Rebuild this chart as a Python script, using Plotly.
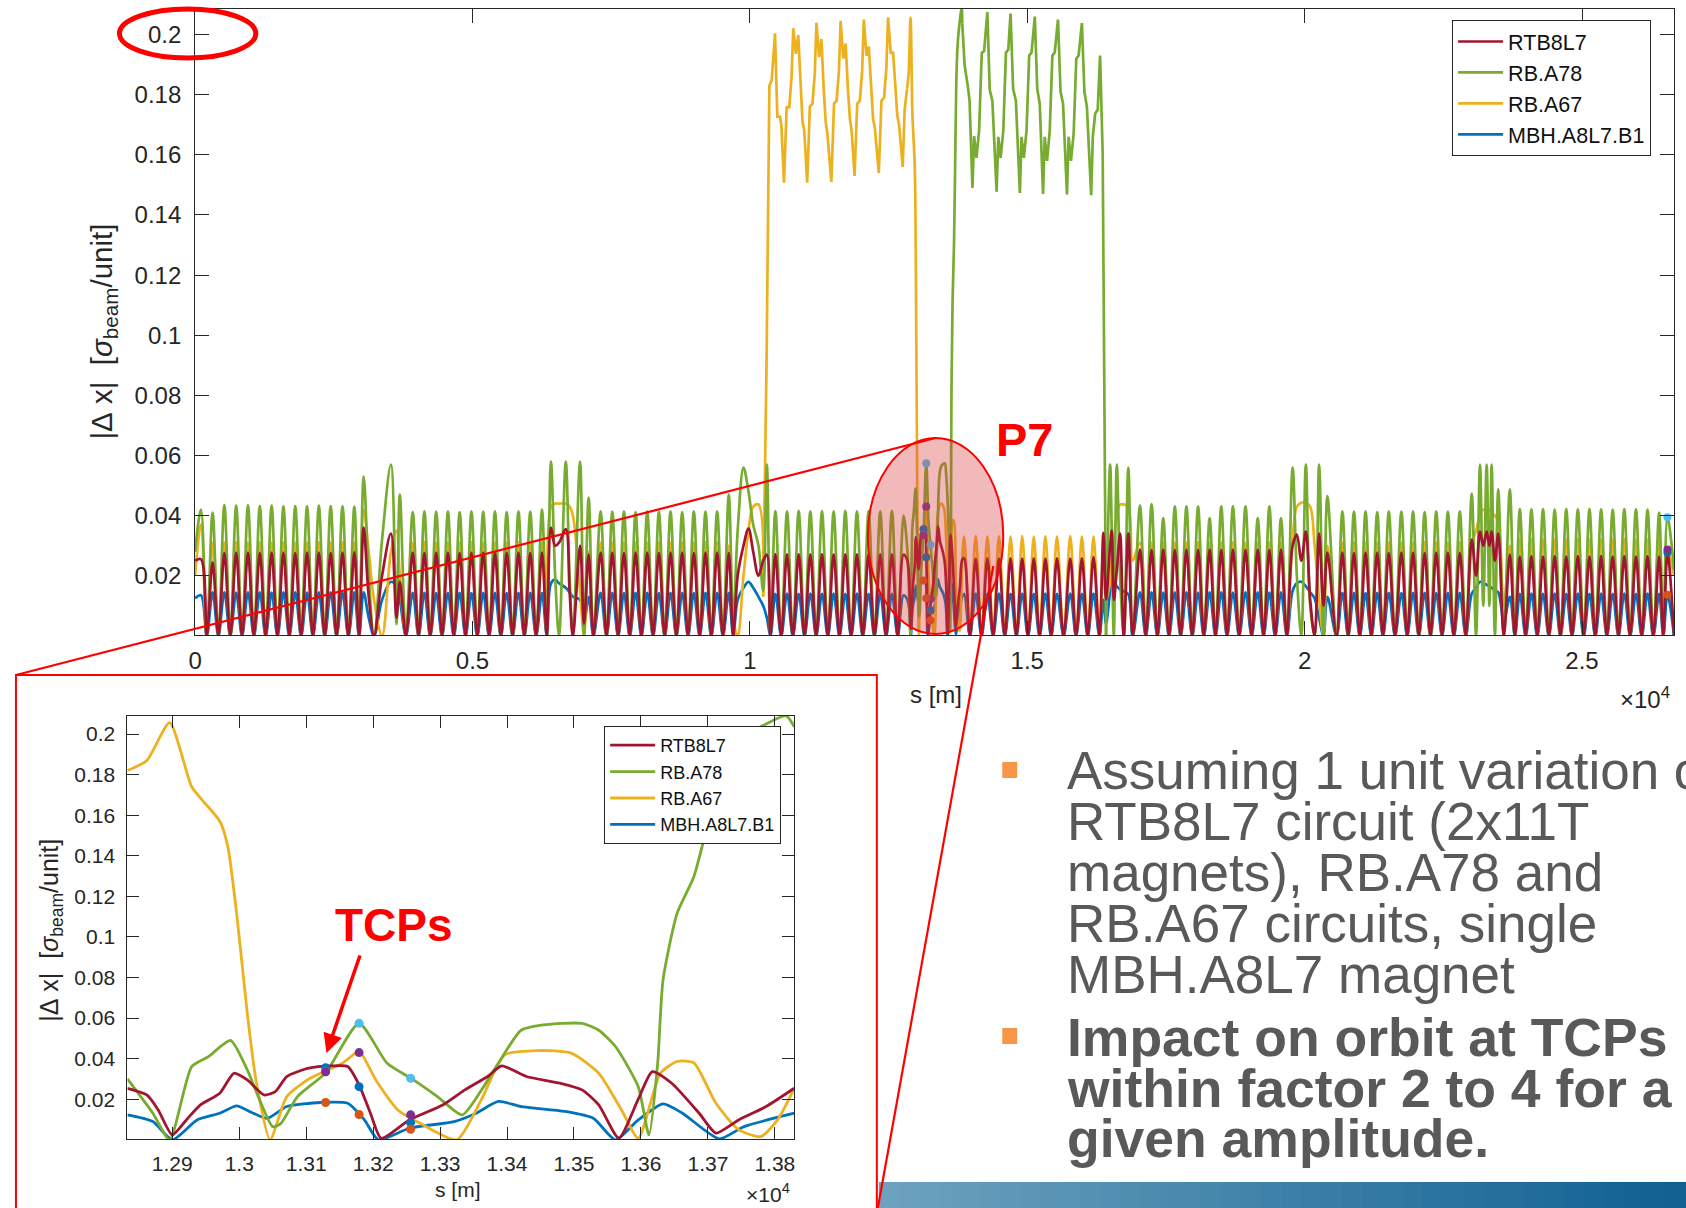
import plotly.graph_objects as go

W, H = 1686, 1208

# ------------------------------------------------------------------ data
# Main ring, segment A (IP3 -> start of the P7 zoom window), s in metres
s_ring_a = [
    # arc 3-4
    0, 105, 210, 315, 420, 527, 634, 740, 846, 953, 1060, 1166, 1272, 1379, 1485,
    1592, 1698, 1805, 1911, 2018, 2124, 2231, 2337, 2444, 2550, 2657, 2763, 2870, 2955,
    # IR4
    3038, 3130, 3225, 3370, 3530, 3630, 3690, 3800,
    # arc 4-5
    3923, 4028, 4133, 4238, 4345, 4451, 4557, 4663, 4769, 4875, 4981, 5087,
    5193, 5299, 5405, 5511, 5617, 5723, 5829, 5935, 6041, 6147, 6253, 6340,
    # IR5
    6414, 6490, 6560, 6681, 6750, 6810, 6939, 7010, 7094, 7180,
    # arc 5-6
    7310, 7415, 7520, 7625, 7730, 7835, 7940, 8045, 8150, 8255, 8360, 8465,
    8570, 8675, 8780, 8885, 8990, 9095, 9200, 9305, 9410, 9515,
    # IR6
    9620, 9700, 9780, 9885, 9975, 10060, 10155, 10240, 10307, 10370,
    # arc 6-7
    10460, 10565, 10670, 10775, 10880, 10985, 11090, 11195, 11300, 11405, 11510, 11615,
    11720, 11825, 11930, 12035, 12140, 12245, 12350, 12455, 12560, 12665, 12770,
]
rtb_a = [
    0.025, 0.0255, 0, 0.0245, 0, 0.0276, 0, 0.0277, 0, 0.0277, 0, 0.0276, 0, 0.0277, 0,
    0.0277, 0, 0.0276, 0, 0.0277, 0, 0.0277, 0, 0.0276, 0, 0.0277, 0, 0.0278, 0,
    0.036, 0.013, 0, 0.02, 0.034, 0.006, 0.018, 0,
    0.0277, 0, 0.0276, 0, 0.0277, 0, 0.0277, 0, 0.0276, 0, 0.0277, 0,
    0.0277, 0, 0.0276, 0, 0.0277, 0, 0.0277, 0, 0.0276, 0, 0.0277, 0,
    0.036, 0.03, 0.031, 0.0355, 0.015, 0, 0.03, 0.004, 0.027, 0,
    0.0277, 0, 0.0277, 0, 0.0276, 0, 0.0277, 0, 0.0277, 0, 0.0276, 0,
    0.0277, 0, 0.0277, 0, 0.0276, 0, 0.0277, 0, 0.0277, 0,
    0.0275, 0, 0.02, 0.03, 0.0357, 0.028, 0.02, 0.025, 0.027, 0,
    0.0272, 0, 0.0271, 0, 0.0272, 0, 0.0271, 0, 0.0272, 0, 0.0271, 0,
    0.0272, 0, 0.0271, 0, 0.0272, 0, 0.0271, 0, 0.0272, 0, 0.027,
]
a78_a = [
    0.028, 0.042, 0, 0.041, 0, 0.0435, 0, 0.0433, 0, 0.0434, 0, 0.0432, 0, 0.0433, 0,
    0.0431, 0, 0.0432, 0, 0.0431, 0, 0.0433, 0, 0.0432, 0, 0.0431, 0, 0.043, 0,
    0.053, 0.02, 0, 0.032, 0.057, 0.004, 0.047, 0,
    0.0412, 0, 0.0414, 0, 0.0413, 0, 0.0414, 0, 0.0412, 0, 0.0414, 0,
    0.0413, 0, 0.0414, 0, 0.0412, 0, 0.0414, 0, 0.0413, 0, 0.042, 0,
    0.058, 0.02, 0, 0.058, 0.02, 0, 0.058, 0, 0.046, 0,
    0.0414, 0, 0.0413, 0, 0.0414, 0, 0.0412, 0, 0.0414, 0, 0.0413, 0,
    0.0414, 0, 0.0412, 0, 0.0414, 0, 0.0413, 0, 0.0414, 0,
    0.047, 0.005, 0.035, 0.056, 0.048, 0.037, 0.03, 0.015, 0.057, 0,
    0.0415, 0, 0.0414, 0, 0.0416, 0, 0.0414, 0, 0.0415, 0, 0.0414, 0,
    0.0416, 0, 0.0414, 0, 0.0415, 0, 0.0414, 0, 0.0416, 0, 0.04,
]
a67_a = [
    0.02, 0.037, 0, 0.031, 0, 0.031, 0, 0.0312, 0, 0.031, 0, 0.0311, 0, 0.031, 0,
    0.0312, 0, 0.031, 0, 0.031, 0, 0.0311, 0, 0.031, 0, 0.0312, 0, 0.031, 0,
    0.042, 0.028, 0.012, 0, 0.028, 0.035, 0.02, 0,
    0.031, 0, 0.0312, 0, 0.031, 0, 0.0311, 0, 0.031, 0, 0.0312, 0,
    0.031, 0, 0.0311, 0, 0.031, 0, 0.0312, 0, 0.031, 0, 0.031, 0,
    0.043, 0.044, 0.044, 0.044, 0.043, 0.04, 0.015, 0, 0.028, 0,
    0.031, 0, 0.0312, 0, 0.031, 0, 0.0311, 0, 0.031, 0, 0.0312, 0,
    0.031, 0, 0.0311, 0, 0.031, 0, 0.0312, 0, 0.031, 0,
    0.03, 0.005, 0, 0.02, 0.035, 0.043, 0.0437, 0.013, None, None,
    None, None, None, None, None, None, None, None, None, None, None, None,
    None, None, None, None, None, None, None, None, None, None, None,
]
mbh_a = [
    0.0125, 0.0135, 0, 0.0145, 0, 0.0145, 0, 0.0144, 0, 0.0145, 0, 0.0145, 0, 0.0144, 0,
    0.0145, 0, 0.0145, 0, 0.0144, 0, 0.0145, 0, 0.0145, 0, 0.0144, 0, 0.0145, 0,
    0.0145, 0.006, 0, 0.012, 0.018, 0.0165, 0.012, 0,
    0.0143, 0, 0.0143, 0, 0.0142, 0, 0.0143, 0, 0.0143, 0, 0.0142, 0,
    0.0143, 0, 0.0143, 0, 0.0142, 0, 0.0143, 0, 0.0143, 0, 0.0142, 0,
    0.0175, 0.0187, 0.0175, 0.016, 0.0145, 0.013, 0.012, 0.004, 0.013, 0,
    0.0143, 0, 0.0143, 0, 0.0142, 0, 0.0143, 0, 0.0143, 0, 0.0142, 0,
    0.0143, 0, 0.0143, 0, 0.0142, 0, 0.0143, 0, 0.0143, 0,
    0.0143, 0, 0.012, 0.016, 0.018, 0.016, 0.013, 0.01, 0.006, 0,
    0.014, 0, 0.0141, 0, 0.014, 0, 0.0141, 0, 0.014, 0, 0.0141, 0,
    0.014, 0, 0.0141, 0, 0.014, 0, 0.0141, 0, 0.014, 0, 0.0135,
]

# Main ring, segment B (end of the P7 zoom window -> IP3)
s_ring_b = [
    # arc 7-8
    13862, 13966, 14071, 14176, 14281, 14385, 14490, 14595, 14699, 14804, 14909, 15013,
    15118, 15222, 15327, 15431, 15536, 15655, 15775, 15880, 15985, 16090, 16194, 16300,
    # IR8
    16373, 16420, 16494, 16523, 16560, 16614, 16673, 16740, 16822, 16900,
    # arc 8-1
    17032, 17136, 17241, 17346, 17451, 17555, 17660, 17765, 17869, 17974, 18079, 18183, 18288,
    18393, 18497, 18602, 18707, 18820, 18934, 19045, 19155, 19260, 19364, 19469, 19574, 19680,
    # IR1
    19783, 19860, 19940, 20022, 20100, 20180, 20261, 20340, 20410, 20575,
    # arc 1-2
    20680, 20785, 20889, 20994, 21098, 21203, 21308, 21412, 21517, 21630, 21744,
    21849, 21954, 22058, 22163, 22268, 22372, 22477, 22582, 22690, 22797, 22905,
    # IR2
    23012, 23090, 23161, 23220, 23281, 23330, 23371, 23430, 23490, 23590, 23699, 23790,
    # arc 2-3
    23879, 23984, 24088, 24193, 24297, 24402, 24507, 24611, 24716, 24820, 24925, 25030, 25134, 25239,
    25344, 25448, 25553, 25657, 25762, 25867, 25972, 26076, 26181, 26285, 26390, 26465, 26540, 26659,
]
rtb_b = [
    0.0258, 0, 0.0257, 0, 0.0258, 0, 0.0257, 0, 0.0258, 0, 0.0257, 0,
    0.0258, 0, 0.0257, 0, 0.0258, 0, 0.0257, 0, 0.0258, 0, 0.0262, 0,
    0.0343, 0.012, 0.03, 0.035, 0.012, 0.022, 0.034, 0, 0.034, 0,
    0.0287, 0, 0.0286, 0, 0.0287, 0, 0.0286, 0, 0.0287, 0, 0.0286, 0, 0.0287,
    0, 0.0286, 0, 0.0287, 0, 0.0286, 0, 0.0287, 0, 0.0286, 0, 0.0287, 0,
    0.03, 0.0337, 0.025, 0.0347, 0.012, 0, 0.034, 0.01, 0.0277, 0,
    0.0277, 0, 0.0276, 0, 0.0277, 0, 0.0277, 0, 0.0276, 0, 0.0277,
    0, 0.0277, 0, 0.0276, 0, 0.0277, 0, 0.0277, 0, 0.0276, 0,
    0.032, 0.02, 0.0347, 0.03, 0.0347, 0.03, 0.0347, 0.025, 0.034, 0, 0.027, 0,
    0.0264, 0, 0.0265, 0, 0.0264, 0, 0.0265, 0, 0.0264, 0, 0.0265, 0, 0.0264, 0,
    0.0265, 0, 0.0264, 0, 0.0265, 0, 0.0264, 0, 0.0265, 0, 0.0264, 0, 0.0277, 0,
]
a78_b = [
    None, None, None, None, None, None, None, None, None, None, None, None,
    None, None, None, None, None, None, None, None, None, None, None, None,
    None, 0, 0.057, 0.035, 0, 0.057, 0.02, 0, 0.056, 0,
    0.0433, 0, 0.0438, 0, 0.0392, 0, 0.0431, 0, 0.0431, 0, 0.0431, 0, 0.0392,
    0, 0.0431, 0, 0.0431, 0, 0.0431, 0, 0.0392, 0, 0.0431, 0, 0.0392, 0,
    0.056, 0.02, 0, 0.057, 0.01, 0, 0.057, 0, 0.0465, 0,
    0.0414, 0, 0.0413, 0, 0.0414, 0, 0.0412, 0, 0.0414, 0, 0.0413,
    0, 0.0414, 0, 0.0412, 0, 0.0414, 0, 0.0413, 0, 0.0414, 0,
    0.0473, 0, 0.057, 0.01, 0.057, 0.01, 0.057, 0, 0.0487, 0, 0.0487, 0,
    0.0422, 0, 0.0421, 0, 0.0422, 0, 0.042, 0, 0.0422, 0, 0.0421, 0, 0.0422, 0,
    0.0421, 0, 0.042, 0, 0.0422, 0, 0.0421, 0, 0.042, 0, 0.041, 0, 0.0395, 0.022,
]
a67_b = [
    0.033, 0, 0.0332, 0, 0.033, 0, 0.0331, 0, 0.033, 0, 0.0332, 0,
    0.033, 0, 0.0331, 0, 0.033, 0, 0.0332, 0, 0.033, 0, 0.033, 0,
    0.03, 0.012, 0.018, 0.025, 0.032, 0.04, 0.0437, 0.0437, 0.043, 0.025,
    0.031, 0, 0.031, 0, 0.0312, 0, 0.031, 0, 0.031, 0, 0.0312, 0, 0.031,
    0, 0.031, 0, 0.0312, 0, 0.031, 0, 0.031, 0, 0.0312, 0, 0.031, 0,
    0.032, 0.043, 0.0443, 0.0443, 0.043, 0.03, 0.012, 0, 0.03, 0,
    0.031, 0, 0.0312, 0, 0.031, 0, 0.031, 0, 0.0312, 0, 0.031,
    0, 0.031, 0, 0.0312, 0, 0.031, 0, 0.031, 0, 0.0312, 0,
    0.03, 0.035, 0.04, 0.042, 0.042, 0.042, 0.041, 0.04, 0.038, 0.01, 0.03, 0,
    0.032, 0, 0.0322, 0, 0.032, 0, 0.0321, 0, 0.032, 0, 0.0322, 0, 0.032, 0,
    0.0321, 0, 0.032, 0, 0.0322, 0, 0.032, 0, 0.0321, 0, 0.032, 0, 0.0287, 0.02,
]
mbh_b = [
    0.014, 0, 0.0141, 0, 0.014, 0, 0.0141, 0, 0.014, 0, 0.0141, 0,
    0.014, 0, 0.0141, 0, 0.014, 0, 0.0141, 0, 0.014, 0, 0.0141, 0,
    0.012, 0.004, 0.015, 0.018, 0.0178, 0.0165, 0.0155, 0.0148, 0.0138, 0,
    0.0145, 0, 0.0145, 0, 0.0144, 0, 0.0145, 0, 0.0145, 0, 0.0144, 0, 0.0145,
    0, 0.0145, 0, 0.0144, 0, 0.0145, 0, 0.0145, 0, 0.0144, 0, 0.0145, 0,
    0.015, 0.0175, 0.018, 0.0165, 0.0145, 0.0125, 0.006, 0, 0.013, 0,
    0.0143, 0, 0.0143, 0, 0.0142, 0, 0.0143, 0, 0.0143, 0, 0.0142,
    0, 0.0143, 0, 0.0143, 0, 0.0142, 0, 0.0143, 0, 0.0143, 0,
    0.014, 0.016, 0.018, 0.0175, 0.017, 0.0165, 0.016, 0.015, 0.0145, 0.005, 0.013, 0,
    0.014, 0, 0.0141, 0, 0.014, 0, 0.0141, 0, 0.014, 0, 0.0141, 0, 0.014, 0,
    0.0141, 0, 0.014, 0, 0.0141, 0, 0.014, 0, 0.0141, 0, 0.014, 0, 0.0137, 0,
]

# RB.A67 excursion over arc 6-7 and RB.A78 excursion over arc 7-8
a67_plateau_s = [10240, 10300, 10352, 10393, 10453, 10495, 10543, 10567, 10615,
                 10663, 10710, 10752, 10782, 10830, 10872, 10913, 10949, 10980, 11033,
                 11081, 11128, 11170, 11200, 11248, 11290, 11331, 11367, 11398, 11469,
                 11517, 11564, 11606, 11636, 11684, 11726, 11767, 11803, 11834, 11887,
                 11935, 11982, 12024, 12054, 12102, 12144, 12185, 12221, 12252, 12324,
                 12372, 12419, 12461, 12491, 12539, 12581, 12622, 12658, 12689, 12755,
                 12790, 12833]
a67_plateau_y = [0.013, 0.09, 0.183, 0.1848, 0.2004, 0.1727, 0.1727, 0.170, 0.1507,
                 0.1758, 0.1758, 0.186, 0.2021, 0.1936, 0.1998, 0.1826, 0.171, 0.1682, 0.1507,
                 0.176, 0.177, 0.187, 0.2039, 0.1925, 0.1985, 0.182, 0.171, 0.167, 0.151,
                 0.177, 0.178, 0.188, 0.2046, 0.192, 0.197, 0.182, 0.172, 0.168, 0.153,
                 0.177, 0.178, 0.188, 0.205, 0.193, 0.196, 0.183, 0.172, 0.169, 0.154,
                 0.178, 0.179, 0.189, 0.2057, 0.194, 0.194, 0.183, 0.173, 0.17, 0.156,
                 0.175, 0.182]
a78_plateau_s = [13829, 13870, 13930, 13960, 14012,
                 14042, 14084, 14132, 14180, 14222, 14281, 14323, 14371, 14448,
                 14478, 14520, 14568, 14616, 14658, 14699, 14745, 14795, 14867,
                 14897, 14939, 14987, 15035, 15077, 15136, 15180, 15225, 15285,
                 15315, 15357, 15405, 15453, 15495, 15554, 15600, 15645, 15716,
                 15746, 15788, 15836, 15884, 15926, 15985, 16030, 16075, 16152,
                 16182, 16224, 16270, 16313, 16360, 16392, 16420]
a78_plateau_y = [0.2036, 0.19, 0.1826, 0.178, 0.149,
                 0.1662, 0.159, 0.168, 0.1939, 0.1945, 0.2075, 0.1817, 0.178, 0.1477,
                 0.166, 0.159, 0.168, 0.194, 0.195, 0.207, 0.182, 0.178, 0.1473,
                 0.166, 0.159, 0.168, 0.193, 0.194, 0.206, 0.182, 0.177, 0.147,
                 0.166, 0.158, 0.168, 0.193, 0.194, 0.205, 0.181, 0.177, 0.1468,
                 0.166, 0.158, 0.167, 0.192, 0.193, 0.2038, 0.181, 0.176, 0.1466,
                 0.166, 0.1737, 0.175, 0.193, 0.16, 0.08, 0.0]

# P7 zoom window (shown in the inset and inside the main ring)
zoom_rtb_s = [12833, 12862, 12879, 12900, 12921, 12942, 12971, 12992, 13012, 13037, 13054, 13071,
              13104, 13137, 13162, 13179, 13196, 13212, 13254, 13304, 13337, 13371, 13392, 13429,
              13479, 13512, 13537, 13567, 13596, 13617, 13646, 13687, 13712, 13746, 13787, 13829]
zoom_rtb_y = [0.0254, 0.0221, 0.0147, 0.0024, 0.0098, 0.0172, 0.023, 0.0328, 0.0295, 0.0221, 0.0238, 0.0312,
              0.0353, 0.0364, 0.0361, 0.0271, 0.0131, 0.0008, 0.0098, 0.0172, 0.0246, 0.0312, 0.0364, 0.0312,
              0.0279, 0.0246, 0.0172, 0.0008, 0.020, 0.0336, 0.0279, 0.0131, 0.0033, 0.0098, 0.0164, 0.0254]
zoom_a78_s = [12833, 12871, 12896, 12929, 12954, 12987, 13012, 13050, 13062, 13087, 13129, 13179,
              13221, 13258, 13296, 13333, 13362, 13387, 13421, 13454, 13512, 13537, 13562, 13596,
              13612, 13625, 13633, 13654, 13679, 13700, 13721, 13746, 13787, 13817, 13829]
zoom_a78_y = [0.030, 0.0131, 0.0, 0.0361, 0.041, 0.049, 0.0345, 0.0065, 0.008, 0.0213, 0.033, 0.0574,
              0.0377, 0.030, 0.0213, 0.0123, 0.0246, 0.0377, 0.054, 0.0566, 0.0574, 0.054, 0.046, 0.0262,
              0.0024, 0.0377, 0.0788, 0.1116, 0.1297, 0.156, 0.184, 0.197, 0.205, 0.209, 0.2036]
zoom_a67_s = [12833, 12862, 12896, 12929, 12946, 12971, 12983, 12996, 13012, 13025, 13046, 13071,
              13104, 13154, 13179, 13204, 13237, 13271, 13325, 13362, 13396, 13446, 13496, 13537,
              13571, 13596, 13629, 13654, 13679, 13712, 13746, 13779, 13804, 13829]
zoom_a67_y = [0.182, 0.187, 0.2056, 0.174, 0.167, 0.157, 0.1445, 0.112, 0.0624, 0.0295, 0.0, 0.0213,
              0.030, 0.0377, 0.0435, 0.0295, 0.0147, 0.008, 0.0, 0.020, 0.0418, 0.044, 0.0427, 0.0328,
              0.0147, 0.0008, 0.0328, 0.0386, 0.038, 0.018, 0.005, 0.0016, 0.0098, 0.0254]
zoom_mbh_s = [12833, 12871, 12900, 12937, 12971, 12996, 13021, 13042, 13071, 13121, 13162, 13187,
              13208, 13254, 13321, 13354, 13387, 13421, 13487, 13529, 13562, 13596, 13633, 13662,
              13717, 13754, 13829]
zoom_mbh_y = [0.0123, 0.009, 0.0, 0.0098, 0.0131, 0.0167, 0.0131, 0.0106, 0.0164, 0.0184, 0.018, 0.0098,
              0.0, 0.0057, 0.009, 0.0131, 0.0189, 0.0164, 0.014, 0.0106, 0.0, 0.0098, 0.0177, 0.0131,
              0.0005, 0.0065, 0.0131]

# primary collimators (TCPs) and the IR3 collimator location
tcp_s = [13129, 13179, 13256, 26540]
tcp_rtb = [0.0355, 0.0262, 0.0085, 0.0277]
tcp_a78 = [0.0336, 0.0574, 0.0303, 0.0395]
tcp_a67 = [0.0335, 0.043, 0.0123, 0.0287]
tcp_mbh = [0.0184, 0.0125, 0.0052, 0.0137]

main_xticks = [0, 5000, 10000, 15000, 20000, 25000]
main_xtext = ["0", "0.5", "1", "1.5", "2", "2.5"]
zoom_xticks = [12900, 13000, 13100, 13200, 13300, 13400, 13500, 13600, 13700, 13800]
zoom_xtext = ["1.29", "1.3", "1.31", "1.32", "1.33", "1.34", "1.35", "1.36", "1.37", "1.38"]
yticks = [0.02, 0.04, 0.06, 0.08, 0.1, 0.12, 0.14, 0.16, 0.18, 0.2]
ytext = ["0.02", "0.04", "0.06", "0.08", "0.1", "0.12", "0.14", "0.16", "0.18", "0.2"]

bullet1_lines = ["Assuming 1 unit variation of", "RTB8L7 circuit (2x11T",
                 "magnets), RB.A78 and", "RB.A67 circuits, single", "MBH.A8L7 magnet"]
bullet2_lines = ["Impact on orbit at TCPs", "within factor 2 to 4 for a", "given amplitude."]

# ------------------------------------------------------------------ checks
for name, a, b in [("rtb_a", s_ring_a, rtb_a), ("a78_a", s_ring_a, a78_a), ("a67_a", s_ring_a, a67_a),
                   ("mbh_a", s_ring_a, mbh_a), ("rtb_b", s_ring_b, rtb_b), ("a78_b", s_ring_b, a78_b),
                   ("a67_b", s_ring_b, a67_b), ("mbh_b", s_ring_b, mbh_b),
                   ("a67p", a67_plateau_s, a67_plateau_y), ("a78p", a78_plateau_s, a78_plateau_y),
                   ("zr", zoom_rtb_s, zoom_rtb_y), ("zg", zoom_a78_s, zoom_a78_y),
                   ("zy", zoom_a67_s, zoom_a67_y), ("zb", zoom_mbh_s, zoom_mbh_y)]:
    if len(a) != len(b):
        raise ValueError(f"{name}: {len(a)} vs {len(b)}")

# ------------------------------------------------------------------ figure
AX = "#262626"
FONT = "Liberation Sans, Arial, Helvetica, sans-serif"
C_RTB, C_A78, C_A67, C_MBH = "#A2142F", "#77AC30", "#EDB120", "#0072BD"

fig = go.Figure()

series = [
    # name, colour, zoom s, zoom y, ring a, ring b, rank
    ("MBH.A8L7.B1", C_MBH, zoom_mbh_s, zoom_mbh_y, mbh_a, mbh_b, 4),
    ("RB.A67", C_A67, zoom_a67_s, zoom_a67_y, a67_a, a67_b, 3),
    ("RB.A78", C_A78, zoom_a78_s, zoom_a78_y, a78_a, a78_b, 2),
    ("RTB8L7", C_RTB, zoom_rtb_s, zoom_rtb_y, rtb_a, rtb_b, 1),
]

LW = 2.7
for name, col, zs, zy, ya, yb, rank in series:
    fig.add_trace(go.Scatter(
        x=s_ring_a + zs + s_ring_b, y=ya + zy + yb, mode="lines", name=name,
        line=dict(color=col, width=LW, shape="spline", smoothing=1.0),
        legend="legend", legendgroup=name, legendrank=rank,
        xaxis="x", yaxis="y", connectgaps=False, hoverinfo="skip"))
    if name == "RB.A67":
        fig.add_trace(go.Scatter(x=a67_plateau_s, y=a67_plateau_y, mode="lines",
                                 line=dict(color=col, width=LW), showlegend=False,
                                 legendgroup=name, xaxis="x", yaxis="y", hoverinfo="skip"))
    if name == "RB.A78":
        fig.add_trace(go.Scatter(x=a78_plateau_s, y=a78_plateau_y, mode="lines",
                                 line=dict(color=col, width=LW), showlegend=False,
                                 legendgroup=name, xaxis="x", yaxis="y", hoverinfo="skip"))

for name, col, zs, zy, ya, yb, rank in series:
    fig.add_trace(go.Scatter(
        x=zs, y=zy, mode="lines", name=name,
        line=dict(color=col, width=2.8, shape="spline", smoothing=0.6),
        legend="legend2", legendrank=rank, xaxis="x2", yaxis="y2", hoverinfo="skip"))

markers = [(tcp_rtb, "#0072BD"), (tcp_a78, "#4DBEEE"), (tcp_a67, "#7E2F8E"), (tcp_mbh, "#D95319")]
for vals, col in markers:
    for xa, ya_, sz in [("x", "y", 8), ("x2", "y2", 9)]:
        fig.add_trace(go.Scatter(x=tcp_s, y=vals, mode="markers", showlegend=False,
                                 marker=dict(color=col, size=sz), xaxis=xa, yaxis=ya_,
                                 cliponaxis=True, hoverinfo="skip"))


def px(x):
    return x / W


def py(y):
    return 1 - y / H


axis_common = dict(showline=True, linecolor=AX, linewidth=1, mirror="ticks", ticks="inside",
                   tickcolor=AX, tickwidth=1, showgrid=False, zeroline=False,
                   tickfont=dict(family=FONT, color=AX))

fig.update_layout(
    width=W, height=H, margin=dict(l=0, r=0, t=0, b=0),
    paper_bgcolor="white", plot_bgcolor="rgba(0,0,0,0)",
    font=dict(family=FONT, color=AX),
    xaxis=dict(axis_common, domain=[px(189), px(1675)], range=[0, 26659], anchor="y",
               tickvals=main_xticks, ticktext=main_xtext, ticklen=14, ticklabelstandoff=4,
               tickfont=dict(family=FONT, color=AX, size=24)),
    yaxis=dict(axis_common, domain=[py(635), py(9)], range=[0.0003, 0.2085], anchor="x",
               tickvals=yticks, ticktext=ytext, ticklen=14, ticklabelstandoff=8,
               tickfont=dict(family=FONT, color=AX, size=24)),
    xaxis2=dict(axis_common, domain=[px(121), px(791)], range=[12833, 13829], anchor="y2",
                tickvals=zoom_xticks, ticktext=zoom_xtext, ticklen=12, ticklabelstandoff=6,
                tickfont=dict(family=FONT, color=AX, size=21)),
    yaxis2=dict(axis_common, domain=[py(1139), py(716)], range=[0.0004, 0.2089], anchor="x2",
                tickvals=yticks, ticktext=ytext, ticklen=12, ticklabelstandoff=7,
                tickfont=dict(family=FONT, color=AX, size=21)),
    legend=dict(x=px(1452), y=py(20), xanchor="left", yanchor="top", bgcolor="white",
                bordercolor=AX, borderwidth=1, font=dict(family=FONT, size=21.5, color="#111"),
                itemwidth=45, tracegroupgap=0, traceorder="normal"),
    legend2=dict(x=px(600), y=py(726), xanchor="left", yanchor="top", bgcolor="white",
                 bordercolor=AX, borderwidth=1, font=dict(family=FONT, size=18, color="#111"),
                 itemwidth=45, tracegroupgap=0, traceorder="normal"),
)

ann = []


def text(x, y, t, size, color=AX, bold=False, angle=0, xanchor="center"):
    ann.append(dict(x=px(x), y=py(y), xref="paper", yref="paper", text=f"<b>{t}</b>" if bold else t,
                    showarrow=False, font=dict(family=FONT, size=size, color=color),
                    textangle=angle, xanchor=xanchor, yanchor="middle"))


YLABEL = "|Δ\u00a0x|\u00a0\u00a0[<i>σ</i><sub>beam</sub>/unit]"
text(933, 694, "s [m]", 24)
text(1646, 698, "×10<sup>4</sup>", 24)
text(97, 332, YLABEL, 29.5, angle=-90)
text(453, 1189, "s [m]", 21)
text(765, 1193, "×10<sup>4</sup>", 21)
text(44, 930, YLABEL, 25, angle=-90)
text(1023, 440, "P7", 47, color="#FF0000", bold=True)
text(389, 925, "TCPs", 46, color="#FF0000", bold=True)

for i, line in enumerate(bullet1_lines):
    text(1063, 770 + i * 51, line, 53, color="#595959", xanchor="left")
for i, line in enumerate(bullet2_lines):
    text(1063, 1037.5 + i * 50.5, line, 53.5, color="#595959", bold=True, xanchor="left")

ann.append(dict(x=px(321), y=py(1053), xref="paper", yref="paper", text="", showarrow=True,
                ax=34, ay=-99, arrowcolor="#FF0000", arrowwidth=3.5, arrowhead=2, arrowsize=1.1))
fig.update_layout(annotations=ann)

shapes = []
RED = "#FF0000"
# circle around the 0.2 tick
shapes.append(dict(type="circle", xref="paper", yref="paper", x0=px(113), x1=px(250),
                   y0=py(58), y1=py(9), line=dict(color=RED, width=5), layer="above"))
# P7 highlight
shapes.append(dict(type="circle", xref="paper", yref="paper", x0=px(865), x1=px(1001),
                   y0=py(634), y1=py(438), line=dict(color=RED, width=2),
                   fillcolor="rgba(215,60,60,0.36)", layer="above"))
# zoom box and connectors
shapes.append(dict(type="rect", xref="paper", yref="paper", x0=px(9), x1=px(874),
                   y0=py(1215), y1=py(675), line=dict(color=RED, width=2), layer="above"))
shapes.append(dict(type="line", xref="paper", yref="paper", x0=px(9), y0=py(675),
                   x1=px(933), y1=py(438), line=dict(color=RED, width=2.2), layer="above"))
shapes.append(dict(type="line", xref="paper", yref="paper", x0=px(991), y0=py(566),
                   x1=px(875), y1=py(1208), line=dict(color=RED, width=2.2), layer="above"))
# bullets
for yb in (762, 1028):
    shapes.append(dict(type="rect", xref="paper", yref="paper", x0=px(1000), x1=px(1015),
                       y0=py(yb + 16), y1=py(yb), line=dict(width=0), fillcolor="#F79646"))
# footer band with gradient
n = 40
x_start, x_end = 876, 1686
c0, c1 = (108, 162, 190), (16, 96, 146)
for i in range(n):
    t = i / (n - 1)
    col = tuple(int(round(c0[k] + (c1[k] - c0[k]) * t)) for k in range(3))
    xa = x_start + (x_end - x_start) * i / n
    xb = x_start + (x_end - x_start) * (i + 1) / n + 1
    shapes.append(dict(type="rect", xref="paper", yref="paper", x0=px(xa), x1=px(xb),
                       y0=0, y1=py(1182), line=dict(width=0),
                       fillcolor=f"rgb{col}", layer="below"))
fig.update_layout(shapes=shapes)

fig.write_html("out.html", config={"displayModeBar": False},
               post_script="document.body.style.margin='0';document.body.style.overflow='hidden';")
